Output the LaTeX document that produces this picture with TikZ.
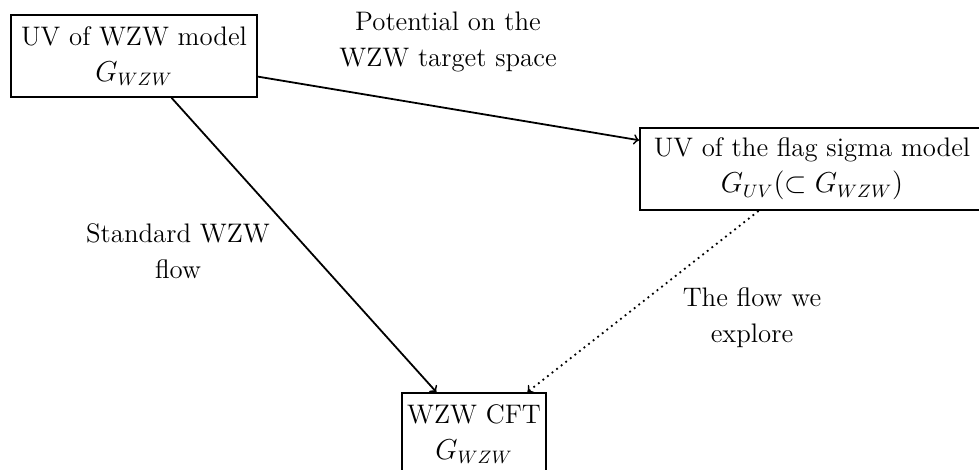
\documentclass[tikz,border=0pt]{standalone}
\begin{document}
\begin{tikzpicture}[x=0.5pt,y=-0.5pt,
  box/.style={draw, line width=0.9pt, align=center, inner sep=0pt,
    minimum height=41pt, font=\fontsize{13.4}{18}\selectfont},
  lbl/.style={align=center, inner sep=0pt, font=\fontsize{13.4}{18}\selectfont},
  conn/.style={line width=0.9pt, ->}]
\useasboundingbox (0,0) rectangle (979,470);
\node[box, minimum width=123pt] (A) at (134,56) {UV of WZW model\\$G_{WZW}$};
\node[box, minimum width=172pt] (B) at (812,169) {UV of the flag sigma model\\$G_{UV}(\subset G_{WZW})$};
\node[box, minimum width=72pt] (C) at (474,434) {WZW CFT\\$G_{WZW}$};
\draw[conn] (A) -- (B);
\draw[conn] (A) -- (C);
\draw[conn, dotted] (B) -- (C);
\node[lbl] (L1) at (448,42) {Potential on the\\WZW target space};
\node[lbl] (L2) at (178,251) {Standard WZW\\flow};
\node[lbl] (L3) at (752,318) {The flow we\\explore};
\end{tikzpicture}
\end{document}
